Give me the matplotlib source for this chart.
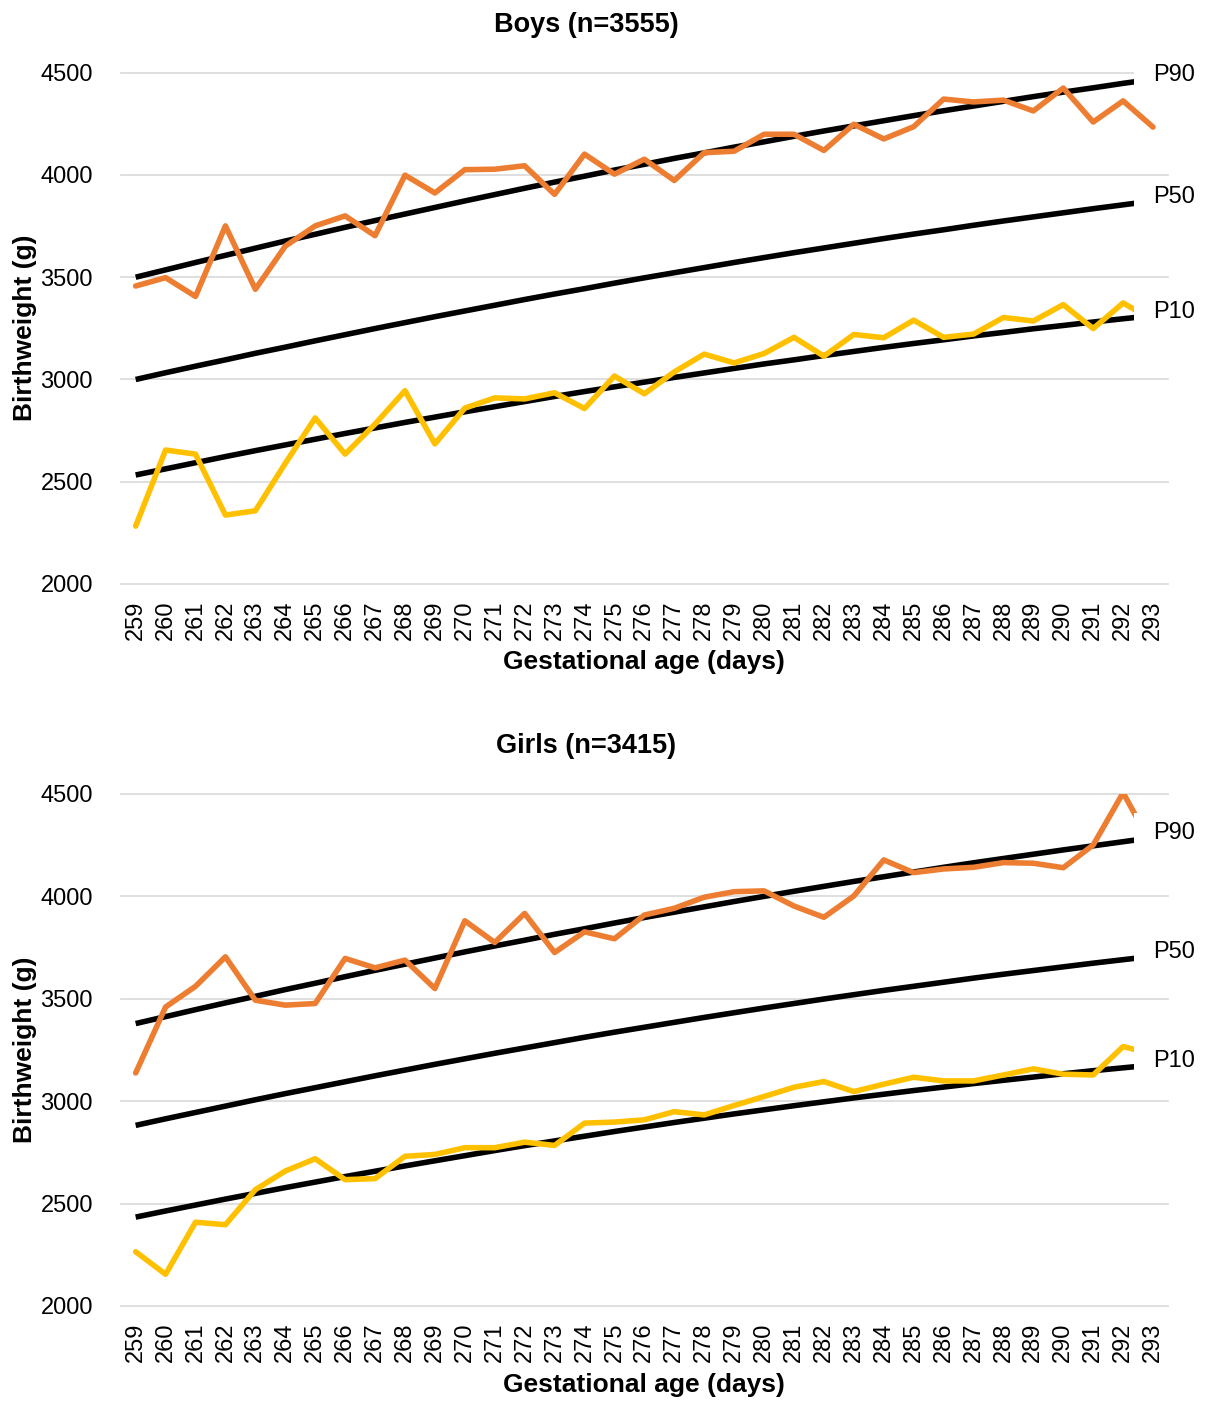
import matplotlib.pyplot as plt
from matplotlib.patches import Rectangle

plt.rcParams['font.family'] = ['Liberation Sans', 'DejaVu Sans']

days = list(range(259, 294))
yticks = [2000, 2500, 3000, 3500, 4000, 4500]

# reference curves (g)
boys_p90 = [3500, 3536, 3572, 3607, 3642, 3677, 3710, 3744, 3777, 3809, 3841, 3873,
            3904, 3935, 3965, 3994, 4024, 4052, 4081, 4108, 4136, 4162, 4189, 4215,
            4240, 4265, 4290, 4314, 4337, 4360, 4383, 4405, 4426, 4448, 4468]
boys_p50 = [3000, 3033, 3065, 3096, 3128, 3158, 3189, 3219, 3249, 3278, 3307, 3335,
            3363, 3391, 3418, 3444, 3471, 3497, 3522, 3547, 3572, 3596, 3620, 3643,
            3666, 3689, 3711, 3732, 3754, 3775, 3795, 3815, 3835, 3854, 3873]
boys_p10 = [2533, 2563, 2593, 2623, 2652, 2680, 2708, 2736, 2763, 2790, 2816, 2842,
            2867, 2892, 2917, 2941, 2964, 2987, 3010, 3032, 3054, 3076, 3096, 3117,
            3137, 3157, 3176, 3194, 3213, 3230, 3248, 3264, 3281, 3297, 3312]
# observed percentiles (g)
boys_obs_p90 = [3457, 3498, 3406, 3751, 3441, 3652, 3751, 3800, 3703, 3999, 3912, 4026,
                4028, 4045, 3905, 4102, 4004, 4077, 3973, 4109, 4116, 4199, 4199, 4120,
                4248, 4176, 4236, 4371, 4357, 4366, 4313, 4425, 4259, 4362, 4234]
boys_obs_p10 = [2283, 2655, 2635, 2337, 2358, 2590, 2812, 2635, 2782, 2945, 2685, 2860,
                2910, 2905, 2935, 2858, 3017, 2930, 3037, 3124, 3081, 3127, 3206, 3114,
                3220, 3204, 3290, 3206, 3222, 3303, 3286, 3366, 3249, 3374, 3290]

girls_p90 = [3379, 3413, 3447, 3480, 3512, 3545, 3576, 3608, 3639, 3669, 3699, 3729,
             3758, 3786, 3815, 3842, 3870, 3897, 3923, 3949, 3975, 4000, 4025, 4049,
             4073, 4096, 4119, 4142, 4164, 4185, 4206, 4227, 4247, 4267, 4287]
girls_p50 = [2882, 2914, 2945, 2976, 3007, 3037, 3066, 3095, 3124, 3152, 3180, 3207,
             3234, 3260, 3286, 3312, 3337, 3361, 3385, 3409, 3432, 3455, 3477, 3499,
             3520, 3541, 3561, 3581, 3601, 3620, 3638, 3656, 3674, 3691, 3708]
girls_p10 = [2434, 2464, 2493, 2522, 2550, 2578, 2605, 2632, 2658, 2684, 2709, 2734,
             2759, 2783, 2806, 2829, 2852, 2874, 2896, 2917, 2938, 2958, 2978, 2997,
             3016, 3034, 3052, 3069, 3086, 3102, 3118, 3134, 3149, 3163, 3177]
girls_obs_p90 = [3138, 3460, 3561, 3705, 3493, 3469, 3477, 3697, 3651, 3689, 3550, 3881,
                 3775, 3917, 3726, 3827, 3793, 3909, 3942, 3996, 4023, 4027, 3953, 3898,
                 4002, 4178, 4116, 4134, 4142, 4165, 4162, 4140, 4251, 4506, 4240]
girls_obs_p10 = [2265, 2155, 2409, 2397, 2568, 2659, 2719, 2617, 2622, 2731, 2740, 2773,
                 2773, 2800, 2784, 2893, 2898, 2909, 2949, 2933, 2979, 3023, 3068, 3096,
                 3047, 3083, 3117, 3099, 3099, 3128, 3158, 3132, 3128, 3267, 3230]

ORANGE = '#ED7D31'
GOLD = '#FFC000'
GRID = '#D9D9D9'
LW = 4.0


def draw_panel(ax, refs, obs_p90, obs_p10):
    ax.set_xlim(258.5, 293.5)
    ax.set_ylim(2000, 4500)
    ax.set_yticks(yticks)
    ax.set_xticks(days)
    ax.set_xticklabels([str(d) for d in days], rotation=90)
    ax.tick_params(length=0, labelsize=17)
    ax.tick_params(axis='y', pad=20)
    ax.tick_params(axis='x', pad=12)
    for s in ax.spines.values():
        s.set_visible(False)
    ax.grid(axis='y', color=GRID, lw=1.2)
    ax.set_axisbelow(True)
    for gl in ax.get_ygridlines():
        gl.set_clip_on(False)

    for vals in refs.values():
        ax.plot(days, vals, color='black', lw=LW, solid_capstyle='butt')
    ax.plot(days, obs_p90, color=ORANGE, lw=LW,
            solid_joinstyle='round', solid_capstyle='round')
    ax.plot(days, obs_p10, color=GOLD, lw=LW,
            solid_joinstyle='round', solid_capstyle='round')

    # end labels on white boxes, as in the spreadsheet data labels
    for name, vals in refs.items():
        last = vals[-1]
        ax.add_patch(Rectangle((292.35, last - 80), 2.2, 200, facecolor='white',
                               edgecolor='none', zorder=5, clip_on=False))
        ax.annotate(name, xy=(293, last), xytext=(0, 3), textcoords='offset points',
                    ha='left', va='center', fontsize=17, zorder=6,
                    annotation_clip=False)


fig = plt.figure(figsize=(12.07, 14.01), dpi=100)
W, H = 1207, 1401

ax1 = fig.add_axes([120.7 / W, 1 - 584 / H, 1047.3 / W, 511.3 / H])
draw_panel(ax1, {'P90': boys_p90, 'P50': boys_p50, 'P10': boys_p10},
           boys_obs_p90, boys_obs_p10)

ax2 = fig.add_axes([120.7 / W, 1 - 1306 / H, 1047.3 / W, 512 / H])
draw_panel(ax2, {'P90': girls_p90, 'P50': girls_p50, 'P10': girls_p10},
           girls_obs_p90, girls_obs_p10)

for title, ty, xl_y, yl_y in [('Boys (n=3555)', 25, 662, 328),
                               ('Girls (n=3415)', 746, 1385, 1050)]:
    fig.text(586 / W, 1 - ty / H, title, ha='center', va='center',
             fontsize=19.5, fontweight='bold')
    fig.text(644 / W, 1 - xl_y / H, 'Gestational age (days)', ha='center',
             va='center', fontsize=19, fontweight='bold')
    fig.text(25 / W, 1 - yl_y / H, 'Birthweight (g)', ha='center', va='center',
             rotation=90, fontsize=19, fontweight='bold')

fig.savefig('out.png', dpi=100)
